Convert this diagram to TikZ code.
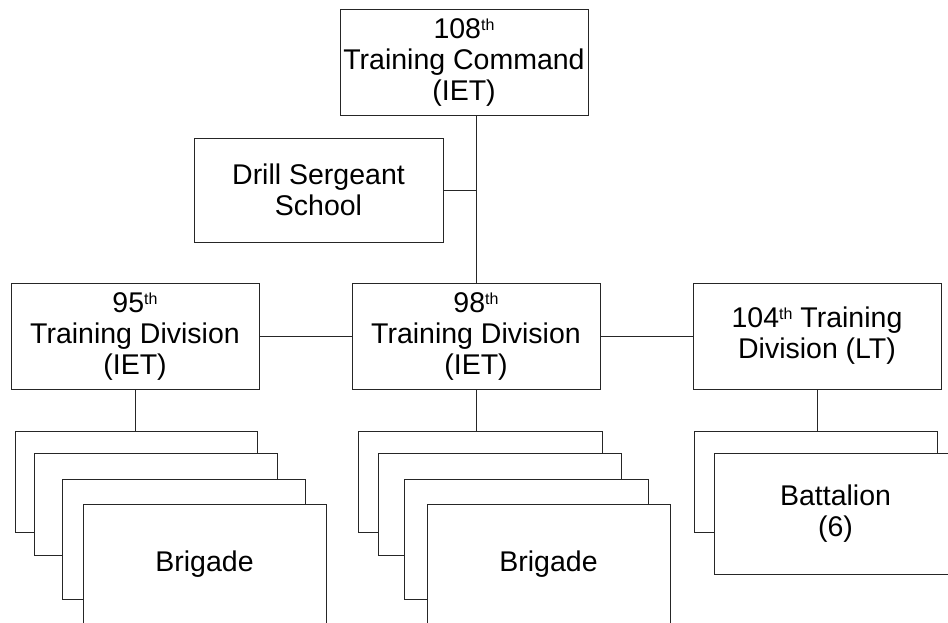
\documentclass[tikz,border=0pt]{standalone}
\usepackage{fontspec}
\setmainfont{Liberation Sans}
\newcommand\ordth{\raisebox{8pt}{\fontsize{16}{16}\selectfont th}}
\begin{document}
\begin{tikzpicture}[x=1pt,y=-1pt,
  box/.style={draw=black!85, line width=1pt, fill=white, align=center,
    font=\fontsize{28.5}{31}\selectfont, inner sep=0pt},
  conn/.style={draw=black!85, line width=1pt}]
\useasboundingbox (0,0) rectangle (948,622);
\clip (0,0) rectangle (948,622);
% top row
\node[box, minimum width=248pt, minimum height=106pt] (top) at (464,62) {108\ordth\\Training Command\\(IET)};
\node[box, minimum width=249pt, minimum height=104pt] (drill) at (318.5,190) {Drill Sergeant\\School};
\node[box, minimum width=248pt, minimum height=106pt] (d95) at (135,336) {95\ordth\\Training Division\\(IET)};
\node[box, minimum width=248pt, minimum height=106pt] (d98) at (476,336) {98\ordth\\Training Division\\(IET)};
\node[box, minimum width=248pt, minimum height=106pt] (d104) at (817,336) {104\ordth{} Training\\Division (LT)};
% 95th stack
\node[box, minimum width=242pt, minimum height=101pt] (b95a) at (136,481.5) {};
\node[box, minimum width=243pt, minimum height=102pt] (b95b) at (155.5,504) {};
\node[box, minimum width=243pt, minimum height=120pt] (b95c) at (183.5,539) {};
\node[box, minimum width=243pt, minimum height=121pt] (b95d) at (204.5,564.5) {Brigade};
% 98th stack
\node[box, minimum width=244pt, minimum height=101pt] (b98a) at (480,481.5) {};
\node[box, minimum width=243pt, minimum height=102pt] (b98b) at (499.5,504) {};
\node[box, minimum width=244pt, minimum height=120pt] (b98c) at (526,539) {};
\node[box, minimum width=243pt, minimum height=121pt] (b98d) at (548.5,564.5) {Brigade};
% 104th stack
\node[box, minimum width=243pt, minimum height=101pt] (b104a) at (815.5,481.5) {};
\node[box, minimum width=243pt, minimum height=121pt] (b104b) at (835.5,513.5) {Battalion\\(6)};
% connectors
\draw[conn] (top.south -| d98.north) -- (d98.north);
\draw[conn] (drill.east) -- (drill.east -| d98.north);
\draw[conn] (d95.east) -- (d98.west);
\draw[conn] (d98.east) -- (d104.west);
\draw[conn] (d95.south) -- (d95.south |- b95a.north);
\draw[conn] (d98.south) -- (d98.south |- b98a.north);
\draw[conn] (d104.south) -- (d104.south |- b104a.north);
\end{tikzpicture}
\end{document}
